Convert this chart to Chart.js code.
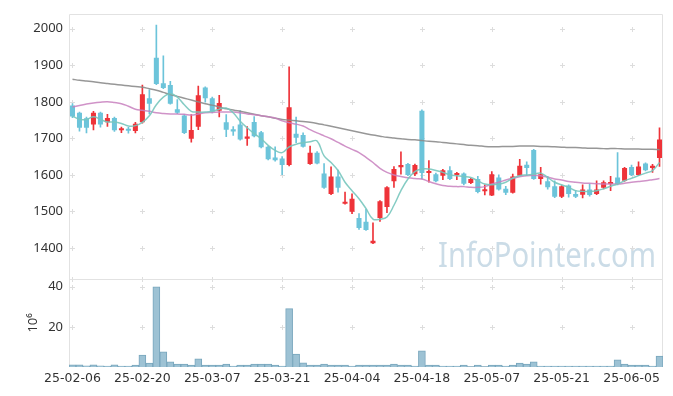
<!DOCTYPE html>
<html>
<head>
<meta charset="utf-8">
<script src="https://cdn.jsdelivr.net/npm/chart.js@4.4.1/dist/chart.umd.min.js"></script>
<style>
  body { margin: 0; background: #fff; }
  #wrap { width: 673px; height: 396px; }
</style>
</head>
<body>
<div id="wrap"><canvas id="chart" width="673" height="396"></canvas></div>
<script>
// trading days (yy-mm-dd)
const labels = [
  "25-02-06","25-02-07","25-02-10","25-02-11","25-02-12","25-02-13","25-02-14","25-02-17","25-02-18","25-02-19",
  "25-02-20","25-02-21","25-02-24","25-02-25","25-02-26","25-02-27","25-02-28","25-03-04","25-03-05","25-03-06",
  "25-03-07","25-03-10","25-03-11","25-03-12","25-03-13","25-03-14","25-03-17","25-03-18","25-03-19","25-03-20",
  "25-03-21","25-03-24","25-03-25","25-03-26","25-03-27","25-03-28","25-03-31","25-04-01","25-04-02","25-04-03",
  "25-04-04","25-04-07","25-04-08","25-04-09","25-04-10","25-04-11","25-04-14","25-04-15","25-04-16","25-04-17",
  "25-04-18","25-04-21","25-04-22","25-04-23","25-04-24","25-04-25","25-04-28","25-04-29","25-04-30","25-05-02",
  "25-05-07","25-05-08","25-05-09","25-05-12","25-05-13","25-05-14","25-05-15","25-05-16","25-05-19","25-05-20",
  "25-05-21","25-05-22","25-05-23","25-05-26","25-05-27","25-05-28","25-05-29","25-05-30","25-06-02","25-06-04",
  "25-06-05","25-06-09","25-06-10","25-06-11","25-06-12"
];

const opens = [
  1790,1770,1755,1738,1770,1744,1756,1722,1724,1720,
  1744,1810,1921,1851,1846,1780,1763,1699,1732,1839,
  1810,1776,1744,1725,1738,1699,1745,1717,1677,1648,
  1645,1627,1713,1709,1630,1661,1604,1548,1596,1521,
  1499,1482,1472,1413,1482,1512,1583,1621,1630,1602,
  1776,1605,1602,1598,1613,1600,1604,1578,1589,1555,
  1544,1593,1562,1551,1598,1628,1668,1589,1583,1569,
  1540,1571,1548,1546,1560,1548,1565,1575,1593,1584,
  1622,1600,1631,1619,1646
];
const highs = [
  1795,1772,1758,1774,1772,1766,1758,1731,1730,1744,
  1846,1833,2010,1926,1856,1806,1765,1765,1843,1841,
  1813,1818,1765,1732,1776,1732,1760,1719,1679,1677,
  1650,1896,1758,1715,1679,1664,1631,1622,1613,1553,
  1548,1494,1506,1469,1530,1568,1623,1663,1632,1630,
  1778,1639,1605,1615,1623,1607,1606,1591,1596,1573,
  1609,1600,1569,1602,1643,1636,1670,1621,1596,1584,
  1571,1573,1557,1573,1575,1584,1584,1596,1661,1621,
  1627,1636,1633,1629,1729
];
const lows = [
  1757,1720,1715,1723,1731,1733,1719,1716,1714,1715,
  1742,1767,1847,1836,1794,1768,1713,1690,1724,1799,
  1770,1759,1705,1708,1695,1681,1704,1674,1641,1638,
  1601,1625,1688,1676,1629,1630,1563,1546,1553,1520,
  1494,1451,1448,1412,1473,1497,1566,1602,1598,1598,
  1589,1580,1581,1587,1587,1587,1573,1576,1551,1545,
  1543,1558,1546,1550,1597,1598,1588,1575,1561,1538,
  1538,1539,1538,1537,1542,1546,1562,1557,1573,1582,
  1598,1598,1611,1607,1623
];
const closes = [
  1760,1729,1729,1770,1738,1756,1722,1725,1721,1740,
  1821,1795,1849,1838,1795,1770,1715,1723,1818,1810,
  1773,1797,1724,1719,1697,1705,1706,1676,1643,1640,
  1627,1785,1702,1677,1661,1631,1565,1596,1565,1526,
  1535,1455,1449,1420,1528,1566,1616,1627,1600,1627,
  1605,1608,1583,1613,1589,1604,1576,1589,1553,1557,
  1602,1560,1551,1596,1625,1619,1589,1602,1566,1540,
  1569,1548,1540,1560,1545,1560,1580,1580,1575,1619,
  1600,1623,1613,1625,1697
];
// volume, millions of shares
const volumes = [
  1.1,1.1,0.6,1.1,0.6,0.5,1.1,0.5,0.5,1.0,
  6.0,2.0,40.0,7.5,2.6,1.5,1.5,1.0,4.1,1.0,
  1.0,1.0,1.5,0.5,1.0,1.0,1.5,1.5,1.5,1.0,
  0.5,29.1,6.5,2.1,1.0,1.0,1.5,1.0,1.0,1.0,
  0.5,1.0,1.0,1.0,1.0,1.0,1.5,1.0,1.0,0.5,
  8.0,1.0,1.0,0.5,0.5,0.5,1.0,0.2,1.0,0.2,
  1.0,1.0,0.5,1.0,2.0,1.5,2.6,0.5,0.5,0.5,
  0.5,0.5,0.5,0.5,0.5,0.5,0.5,0.5,3.6,1.5,
  1.0,1.0,1.0,0.5,5.5
];
// moving averages
const ma5 = [
  1761,1752,1752,1759,1752,1745,1745,1741,1734,1735,
  1744,1762,1792,1813,1822,1813,1792,1774,1772,1772,
  1774,1780,1783,1770,1747,1729,1713,1699,1681,1667,
  1661,1677,1684,1688,1691,1693,1652,1634,1612,1580,
  1557,1535,1508,1479,1479,1485,1517,1557,1589,1609,
  1616,1616,1612,1607,1600,1598,1596,1593,1584,1575,
  1573,1575,1580,1591,1598,1600,1602,1605,1593,1580,
  1573,1566,1557,1555,1555,1557,1562,1569,1575,1584,
  1591,1598,1605,1612,1634
];
const ma20 = [
  1786,1790,1794,1797,1799,1800,1798,1795,1788,1780,
  1777,1774,1770,1768,1767,1767,1766,1764,1767,1770,
  1771,1772,1772,1772,1770,1767,1765,1762,1759,1756,
  1748,1743,1739,1734,1724,1715,1707,1699,1689,1679,
  1670,1661,1648,1634,1618,1607,1600,1596,1592,1590,
  1589,1582,1576,1571,1569,1568,1568,1566,1566,1568,
  1575,1580,1586,1591,1595,1598,1599,1598,1594,1589,
  1586,1582,1580,1578,1577,1576,1575,1575,1575,1577,
  1580,1582,1584,1587,1590
];
const ma60 = [
  1862,1859,1857,1855,1852,1850,1848,1846,1844,1842,
  1840,1836,1832,1826,1820,1815,1810,1805,1800,1795,
  1791,1786,1781,1778,1774,1770,1766,1762,1759,1755,
  1752,1750,1748,1746,1744,1741,1737,1733,1729,1725,
  1721,1717,1713,1709,1706,1703,1701,1699,1697,1696,
  1694,1692,1691,1689,1687,1685,1683,1681,1680,1678,
  1677,1677,1678,1678,1679,1679,1679,1678,1678,1677,
  1676,1675,1675,1674,1673,1673,1672,1672,1672,1671,
  1671,1671,1670,1670,1669
];
const priceTicks = [1400, 1500, 1600, 1700, 1800, 1900, 2000];
const volumeTicks = [20, 40];

const UP = "#ee3339";
const DOWN = "#6cc4da";
const candleColors = closes.map((c, i) => (c >= opens[i] ? UP : DOWN));

Chart.defaults.font.family = "'Noto Sans', sans-serif";
Chart.defaults.font.size = 13;
Chart.defaults.color = "#333";

// light "+" marks on tick crossings, panel frames and the watermark
const decor = {
  id: "decor",
  beforeDatasetsDraw(chart) {
    const { ctx, chartArea, scales } = chart;
    const x = scales.x, y = scales.y, yv = scales.yv;
    ctx.save();

    ctx.font = "35px 'Noto Sans'";
    ctx.fillStyle = "#cbdce7";
    ctx.textBaseline = "alphabetic";
    ctx.fillText("InfoPointer.com", 438, 267, 218);

    ctx.strokeStyle = "#dddddd";
    ctx.lineWidth = 1;
    const ys = priceTicks.map((v) => y.getPixelForValue(v))
      .concat(volumeTicks.map((v) => yv.getPixelForValue(v)), [y.bottom]);
    for (let i = 0; i < labels.length; i += 10) {
      const px = Math.round(x.getPixelForValue(i)) + 0.5;
      ys.forEach((p) => {
        const py = Math.round(p) + 0.5;
        ctx.beginPath();
        ctx.moveTo(px - 2.5, py); ctx.lineTo(px + 2.5, py);
        ctx.moveTo(px, py - 2.5); ctx.lineTo(px, py + 2.5);
        ctx.stroke();
      });
    }

    ctx.strokeStyle = "#e2e2e2";
    const l = Math.round(chartArea.left) + 0.5;
    const r = Math.round(chartArea.right) - 0.5;
    const t = Math.round(chartArea.top) + 0.5;
    const m = Math.round(y.bottom) + 0.5;
    const b = Math.round(chartArea.bottom) - 0.5;
    ctx.beginPath();
    ctx.moveTo(l, t); ctx.lineTo(r, t); ctx.lineTo(r, b);
    ctx.moveTo(l, t); ctx.lineTo(l, b);
    ctx.moveTo(l, m); ctx.lineTo(r, m);
    ctx.stroke();
    ctx.strokeStyle = "#cfcfcf";
    ctx.beginPath();
    ctx.moveTo(l, b); ctx.lineTo(r, b);
    ctx.stroke();
    ctx.restore();
  },
};

const ctx = document.getElementById("chart").getContext("2d");
new Chart(ctx, {
  type: "bar",
  data: {
    labels: labels,
    datasets: [
      {
        type: "line", label: "MA5", data: ma5, yAxisID: "y",
        borderColor: "rgba(120,198,190,0.9)", borderWidth: 1.5,
        pointRadius: 0, tension: 0.4, order: 0,
      },
      {
        type: "line", label: "MA20", data: ma20, yAxisID: "y",
        borderColor: "rgba(200,128,190,0.85)", borderWidth: 1.5,
        pointRadius: 0, tension: 0.4, order: 0,
      },
      {
        type: "line", label: "MA60", data: ma60, yAxisID: "y",
        borderColor: "rgba(140,140,140,0.9)", borderWidth: 1.5,
        pointRadius: 0, tension: 0.4, order: 0,
      },
      {
        label: "body", yAxisID: "y",
        data: opens.map((o, i) => [o, closes[i]]),
        backgroundColor: candleColors,
        barPercentage: 0.72, categoryPercentage: 1,
        grouped: false, minBarLength: 2, order: 1,
      },
      {
        label: "wick", yAxisID: "y",
        data: lows.map((lo, i) => [lo, highs[i]]),
        backgroundColor: candleColors,
        barThickness: 1, grouped: false, order: 2,
      },
      {
        label: "volume", yAxisID: "yv", data: volumes,
        backgroundColor: "#9dc2d4", borderColor: "#78a6bd", borderWidth: 1,
        barPercentage: 1, categoryPercentage: 1, grouped: false, order: 3,
      },
    ],
  },
  options: {
    responsive: false,
    animation: false,
    layout: { padding: { top: 10, right: 10, left: 0, bottom: 0 } },
    plugins: { legend: { display: false }, tooltip: { enabled: false } },
    scales: {
      x: {
        type: "category",
        offset: true,
        grid: { display: false, drawTicks: false },
        border: { display: false },
        ticks: {
          autoSkip: false, maxRotation: 0, padding: 4,
          font: { family: "'DejaVu Sans', sans-serif", size: 12.5 },
          callback: function (v, i) { return i % 10 === 0 ? this.getLabelForValue(v) : ""; },
        },
        afterFit: (s) => { s.height = 29; },
      },
      y: {
        position: "left", stack: "panels", stackWeight: 3, weight: 2,
        min: 1316, max: 2041,
        grid: { display: false, drawTicks: false },
        border: { display: false },
        ticks: { padding: 6, callback: (v) => String(v) },
        afterBuildTicks: (s) => { s.ticks = priceTicks.map((v) => ({ value: v })); },
        afterFit: (s) => { s.width = 69; },
      },
      yv: {
        position: "left", stack: "panels", stackWeight: 1, weight: 1,
        min: 0, max: 44,
        grid: { display: false, drawTicks: false },
        border: { display: false },
        ticks: { padding: 6, callback: (v) => String(v) },
        title: { display: true, text: "10⁶", padding: { top: 25, bottom: 0 } },
        afterBuildTicks: (s) => { s.ticks = volumeTicks.map((v) => ({ value: v })); },
        afterFit: (s) => { s.width = 69; },
      },
    },
  },
  plugins: [decor],
});
</script>
</body>
</html>
